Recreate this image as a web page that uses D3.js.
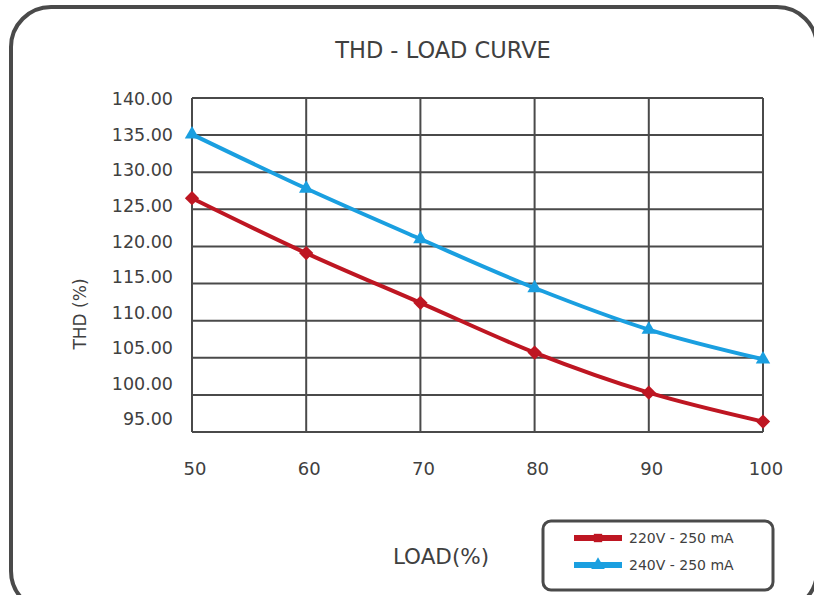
<!DOCTYPE html>
<html>
<head>
<meta charset="utf-8">
<script src="https://cdn.jsdelivr.net/npm/d3@7"></script>
<style>
  html, body { margin: 0; padding: 0; background: #fff; }
  text { font-family: "DejaVu Sans", sans-serif; fill: #404040; }
</style>
</head>
<body>
<div id="chart"></div>
<script>
// Load points on the x axis (%)
var loads = [50, 60, 70, 80, 90, 100];
// THD values
var thd220 = [126.5, 119.1, 112.4, 105.7, 100.3, 96.4];
var thd240 = [135.1, 127.8, 121.0, 114.4, 108.8, 104.8];
var yTicks = [140, 135, 130, 125, 120, 115, 110, 105, 100, 95];
var seriesNames = ['220V - 250 mA', '240V - 250 mA'];

var width = 814, height = 595;
var red = '#be1622', blue = '#1a9fe0', ink = '#4a4a4a';

var svg = d3.select('#chart').append('svg')
    .attr('width', width)
    .attr('height', height);

// outer frame (runs off the right and bottom edges)
svg.append('rect')
    .attr('x', 11).attr('y', 7)
    .attr('width', 806).attr('height', 604)
    .attr('rx', 40).attr('ry', 40)
    .attr('fill', 'none')
    .attr('stroke', ink)
    .attr('stroke-width', 4);

var x = d3.scaleLinear().domain([50, 100]).range([192, 763]);
var y = d3.scaleLinear().domain([95, 140]).range([432, 98]);
// tick labels in the original sit a bit tighter than the grid
var yLab = d3.scaleLinear().domain([95, 140]).range([419, 99]);

svg.append('text')
    .attr('x', 443).attr('y', 58)
    .attr('text-anchor', 'middle')
    .style('font-size', '22.5px')
    .text('THD - LOAD CURVE');

// grid
var grid = svg.append('g')
    .attr('stroke', ink)
    .attr('stroke-width', 2);
grid.selectAll('.h').data(yTicks)
  .enter().append('line')
    .attr('x1', x(50)).attr('x2', x(100))
    .attr('y1', function(d) { return y(d); })
    .attr('y2', function(d) { return y(d); });
grid.selectAll('.v').data(loads)
  .enter().append('line')
    .attr('y1', y(95)).attr('y2', y(140))
    .attr('x1', function(d) { return x(d); })
    .attr('x2', function(d) { return x(d); });

// y tick labels
svg.append('g').selectAll('text').data(yTicks)
  .enter().append('text')
    .attr('x', 173)
    .attr('y', function(d) { return yLab(d); })
    .attr('dy', '0.36em')
    .attr('text-anchor', 'end')
    .style('font-size', '17.5px')
    .text(function(d) { return d3.format('.2f')(d); });

// x tick labels
svg.append('g').selectAll('text').data(loads)
  .enter().append('text')
    .attr('x', function(d) { return x(d) + 3; })
    .attr('y', 475)
    .attr('text-anchor', 'middle')
    .style('font-size', '18px')
    .text(function(d) { return d; });

svg.append('text')
    .attr('transform', 'translate(86,314) rotate(-90)')
    .attr('text-anchor', 'middle')
    .style('font-size', '17px')
    .text('THD (%)');

svg.append('text')
    .attr('x', 441).attr('y', 564)
    .attr('text-anchor', 'middle')
    .style('font-size', '21.5px')
    .text('LOAD(%)');

var line = d3.line()
    .x(function(d, i) { return x(loads[i]); })
    .y(function(d) { return y(d); })
    .curve(d3.curveCatmullRom);

var diamond = d3.symbol().type(d3.symbolDiamond2).size(130);
var triangle = d3.symbol().type(d3.symbolTriangle).size(90);

function drawSeries(vals, color, sym) {
  svg.append('path')
      .attr('d', line(vals))
      .attr('fill', 'none')
      .attr('stroke', color)
      .attr('stroke-width', 4);
  svg.append('g').selectAll('path').data(vals)
    .enter().append('path')
      .attr('d', sym)
      .attr('fill', color)
      .attr('transform', function(d, i) {
        return 'translate(' + x(loads[i]) + ',' + y(d) + ')';
      });
}
drawSeries(thd220, red, diamond);
drawSeries(thd240, blue, triangle);

// legend
var leg = svg.append('g');
leg.append('rect')
    .attr('x', 543).attr('y', 521)
    .attr('width', 230).attr('height', 69)
    .attr('rx', 8)
    .attr('fill', '#fff')
    .attr('stroke', ink)
    .attr('stroke-width', 3);
var items = [
  {name: seriesNames[0], color: red, sym: d3.symbol().type(d3.symbolSquare).size(70), y: 538},
  {name: seriesNames[1], color: blue, sym: d3.symbol().type(d3.symbolTriangle).size(80), y: 565}
];
items.forEach(function(it) {
  leg.append('line')
      .attr('x1', 574).attr('x2', 622)
      .attr('y1', it.y).attr('y2', it.y)
      .attr('stroke', it.color)
      .attr('stroke-width', 6);
  leg.append('path')
      .attr('d', it.sym())
      .attr('fill', it.color)
      .attr('transform', 'translate(598,' + it.y + ')');
  leg.append('text')
      .attr('x', 629).attr('y', it.y)
      .attr('dy', '0.36em')
      .style('font-size', '14px')
      .text(it.name);
});
</script>
</body>
</html>
